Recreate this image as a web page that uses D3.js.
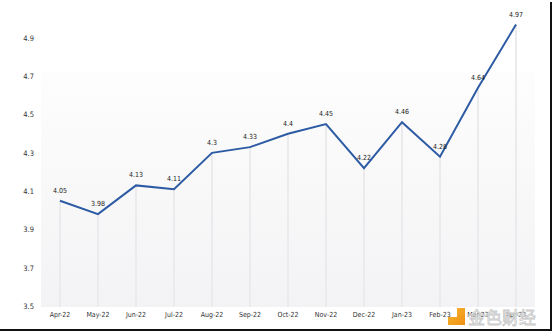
<!DOCTYPE html>
<html>
<head>
<meta charset="utf-8">
<script src="https://cdn.jsdelivr.net/npm/d3@7/dist/d3.min.js"></script>
<style>
  html, body { margin: 0; padding: 0; background: #fff; }
  svg { display: block; }
  .lbl { font-family: "DejaVu Sans Condensed", "DejaVu Sans", sans-serif; font-stretch: condensed; }
</style>
</head>
<body>
<svg id="chart" width="554" height="332"></svg>
<script>
// Monthly series
const months = ["Apr-22","May-22","Jun-22","Jul-22","Aug-22","Sep-22","Oct-22","Nov-22","Dec-22","Jan-23","Feb-23","Mar-23","Apr-23"];
const values = [4.05, 3.98, 4.13, 4.11, 4.3, 4.33, 4.4, 4.45, 4.22, 4.46, 4.28, 4.64, 4.97];
const valueLabels = ["4.05","3.98","4.13","4.11","4.3","4.33","4.4","4.45","4.22","4.46","4.28","4.64","4.97"];
const yTicks = [3.5, 3.7, 3.9, 4.1, 4.3, 4.5, 4.7, 4.9];

const svg = d3.select("#chart");
const plot = { left: 41, right: 535, top: 72, bottom: 307 };

const x = d3.scaleBand().domain(months).range([plot.left, plot.right]).padding(0);
const y = d3.scaleLinear().domain([3.5, 4.9]).range([306, 38]);
const cx = d => x(d) + x.bandwidth() / 2;

// plot panel with soft vertical gradient
const defs = svg.append("defs");
const grad = defs.append("linearGradient").attr("id", "panel").attr("x1", 0).attr("y1", 0).attr("x2", 0).attr("y2", 1);
grad.append("stop").attr("offset", "0%").attr("stop-color", "#fdfdfd");
grad.append("stop").attr("offset", "100%").attr("stop-color", "#f3f3f5");
svg.append("rect")
  .attr("x", plot.left).attr("y", plot.top)
  .attr("width", plot.right - plot.left).attr("height", plot.bottom - plot.top)
  .attr("fill", "url(#panel)");

// drop lines from each point to the baseline
svg.append("g").selectAll("line").data(months).join("line")
  .attr("x1", d => cx(d)).attr("x2", d => cx(d))
  .attr("y1", (d, i) => y(values[i]))
  .attr("y2", plot.bottom)
  .attr("stroke", "#ebebed").attr("stroke-width", 2);

// y axis labels
const yAxis = d3.axisLeft(y).tickValues(yTicks).tickSize(0).tickPadding(0).tickFormat(d3.format(".1f"));
const gy = svg.append("g").attr("transform", "translate(34,0)").call(yAxis);
gy.select(".domain").remove();
gy.selectAll("text").attr("class", "lbl").attr("font-size", 7.5).attr("fill", "#333");

// x axis labels
const xAxis = d3.axisBottom(x).tickSize(0).tickPadding(0);
const gx = svg.append("g").attr("transform", "translate(0,312)").call(xAxis);
gx.select(".domain").remove();
gx.selectAll("text").attr("class", "lbl").attr("font-size", 7).attr("fill", "#333");

// series line
const line = d3.line().x((d, i) => cx(months[i])).y(d => y(d));
svg.append("path").datum(values)
  .attr("d", line)
  .attr("fill", "none")
  .attr("stroke", "#2d5ba3")
  .attr("stroke-width", 2)
  .attr("stroke-linejoin", "miter");

// value labels
svg.append("g").selectAll("text").data(values).join("text")
  .attr("class", "lbl")
  .attr("x", (d, i) => cx(months[i]))
  .attr("y", d => y(d) - 8)
  .attr("text-anchor", "middle")
  .attr("font-size", 7)
  .attr("fill", "#222")
  .text((d, i) => valueLabels[i]);

// watermark
const wm = svg.append("g");
const og = defs.append("linearGradient").attr("id", "og").attr("x1", 0).attr("y1", 0).attr("x2", 1).attr("y2", 1);
og.append("stop").attr("offset", "0%").attr("stop-color", "#f7b733");
og.append("stop").attr("offset", "100%").attr("stop-color", "#ef8f12");
wm.append("path")
  .attr("d", "M457,308 h8 v17 h-17 v-8 h9 z")
  .attr("fill", "url(#og)");
wm.append("text")
  .attr("x", 468).attr("y", 324)
  .attr("font-family", "Noto Sans CJK SC")
  .attr("font-size", 17)
  .attr("fill", "rgba(255,255,255,0.6)")
  .attr("stroke", "#c8c8c8")
  .attr("stroke-width", 0.8)
  .text("金色财经");

// frame edges
svg.append("rect").attr("x", 0).attr("y", 329).attr("width", 552).attr("height", 2).attr("fill", "#111");
svg.append("rect").attr("x", 550).attr("y", 2).attr("width", 2).attr("height", 329).attr("fill", "#111");
</script>
</body>
</html>
